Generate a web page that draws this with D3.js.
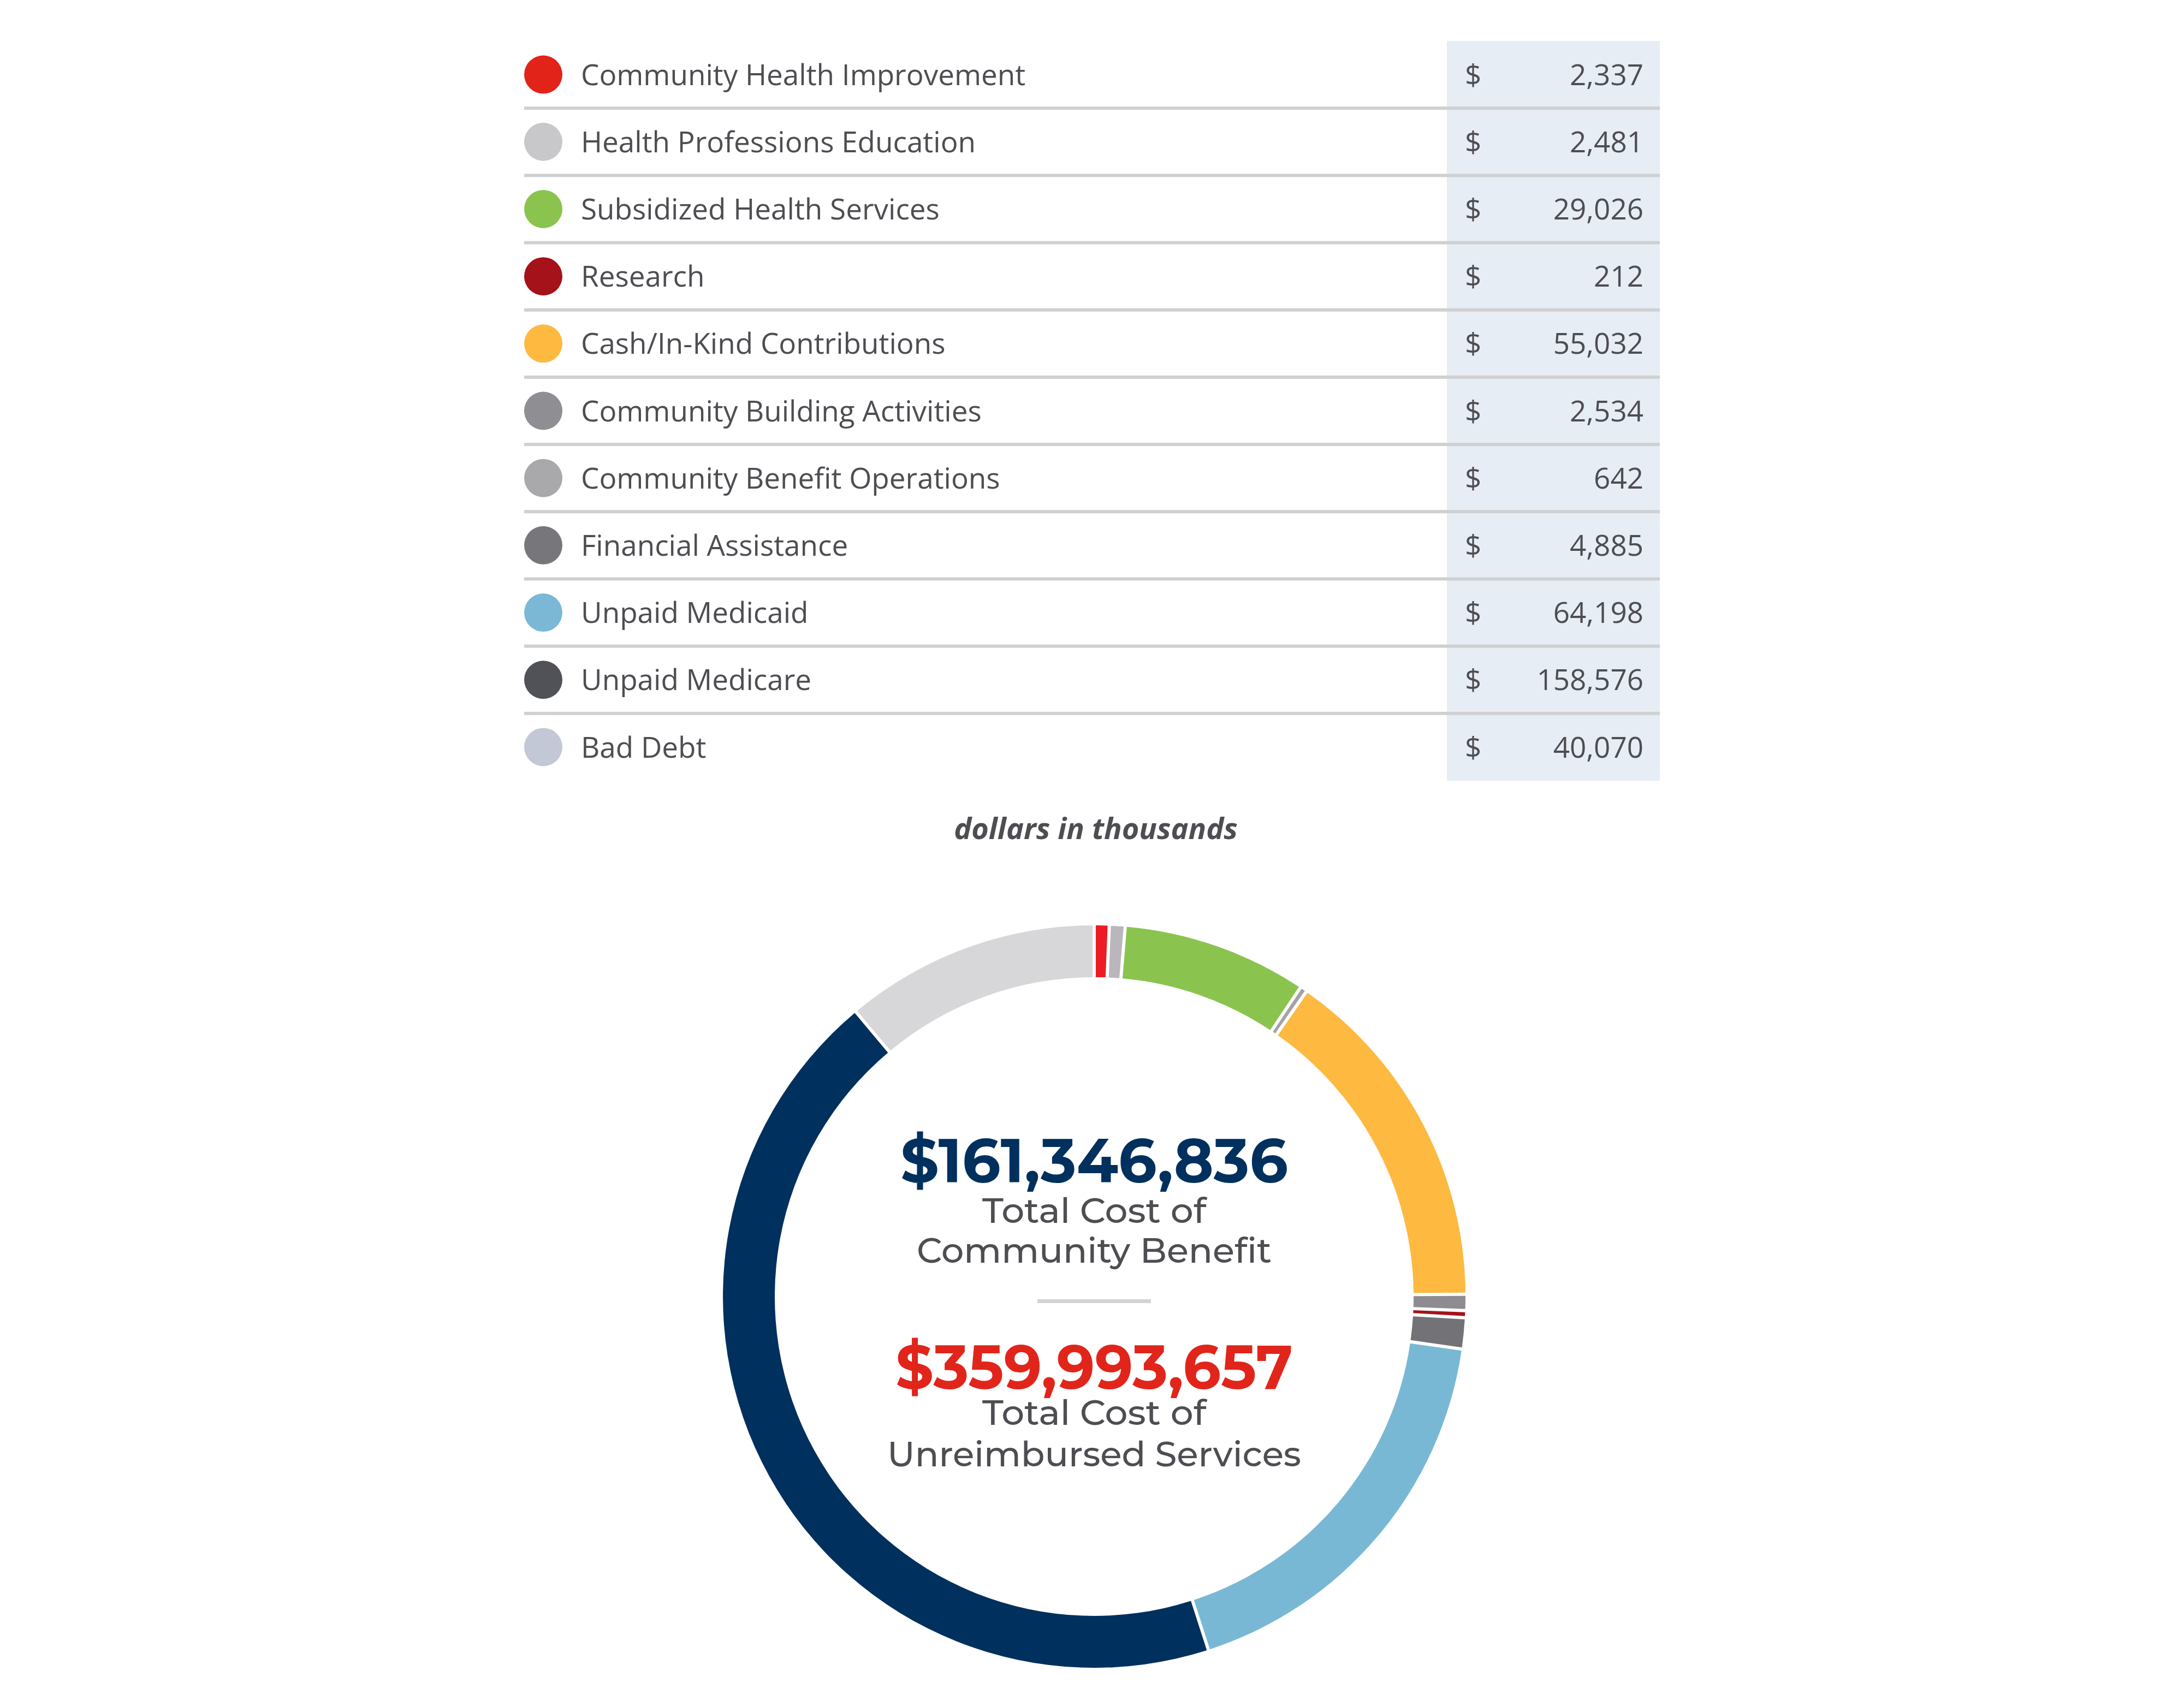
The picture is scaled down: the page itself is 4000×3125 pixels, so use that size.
<!DOCTYPE html>
<html lang="en">
<head>
<meta charset="UTF-8" />
<title>Community Benefit</title>
<script src="https://cdn.jsdelivr.net/npm/d3@7"></script>
<style>
html, body { margin: 0; padding: 0; background: #fff; }
svg { display: block; }
.lbl { font-family: "Open Sans", sans-serif; fill: #4d4d52; }
.big { font-family: "Montserrat", "Roboto", sans-serif; font-weight: 700; }
.sub { font-family: "Montserrat", "Roboto", sans-serif; font-weight: 500; fill: #4d4d52; }
</style>
</head>
<body>
<svg id="chart" width="4000" height="3125"></svg>
<script>
// legend order (table)
const categories = [
  'Community Health Improvement', 'Health Professions Education', 'Subsidized Health Services',
  'Research', 'Cash/In-Kind Contributions', 'Community Building Activities',
  'Community Benefit Operations', 'Financial Assistance', 'Unpaid Medicaid',
  'Unpaid Medicare', 'Bad Debt'
];
const values = [2337, 2481, 29026, 212, 55032, 2534, 642, 4885, 64198, 158576, 40070]; // $ thousands
const dotColors = ['#e2231a', '#c8c8ca', '#8bc34f', '#a5121a', '#fdb940', '#8e8e93',
  '#a9a9ab', '#77777b', '#7ab8d6', '#515257', '#c3c8d6'];

// order round the ring, clockwise from 12 o'clock
const ringOrder = [
  'Community Health Improvement', 'Health Professions Education', 'Subsidized Health Services',
  'Community Benefit Operations', 'Cash/In-Kind Contributions', 'Community Building Activities',
  'Research', 'Financial Assistance', 'Unpaid Medicaid', 'Unpaid Medicare', 'Bad Debt'
];
const ringColors = {
  'Community Health Improvement': '#ec1c24', 'Health Professions Education': '#b9b7bb',
  'Subsidized Health Services': '#8bc34f', 'Community Benefit Operations': '#a3a2a6',
  'Cash/In-Kind Contributions': '#fdb940', 'Community Building Activities': '#8e8c91',
  'Research': '#a5121a', 'Financial Assistance': '#737277', 'Unpaid Medicaid': '#79b8d5',
  'Unpaid Medicare': '#00305e', 'Bad Debt': '#d7d6d8'
};

const totals = ['$161,346,836', '$359,993,657'];
const totalLabels = [['Total Cost of', 'Community Benefit'], ['Total Cost of', 'Unreimbursed Services']];
const note = 'dollars in thousands';

const svg = d3.select('#chart');
const fmt = d3.format(',');

// ---- table ----
const tLeft = 960, tRight = 3040, colX = 2650;
const y = d3.scaleBand().domain(categories).range([75, 1430]);

svg.append('rect').attr('x', colX).attr('y', y.range()[0])
  .attr('width', tRight - colX).attr('height', y.range()[1] - y.range()[0])
  .attr('fill', '#e6edf4');

const row = svg.selectAll('g.row').data(categories).join('g')
  .attr('class', 'row')
  .attr('transform', d => `translate(0,${y(d) + y.bandwidth() / 2})`);

row.filter((d, i) => i < categories.length - 1).append('rect')
  .attr('x', tLeft).attr('y', y.bandwidth() / 2 - 3)
  .attr('width', tRight - tLeft).attr('height', 6).attr('fill', '#cfd0d2');

row.append('circle').attr('cx', 995).attr('cy', 0).attr('r', 35)
  .attr('fill', (d, i) => dotColors[i]);

row.append('text').attr('class', 'lbl').attr('x', 1064).attr('dy', '0.36em')
  .attr('font-size', 53).text(d => d);

row.append('text').attr('class', 'lbl').attr('x', 2683).attr('dy', '0.36em')
  .attr('font-size', 53).text('$');

row.append('text').attr('class', 'lbl').attr('x', 3010).attr('dy', '0.36em')
  .attr('text-anchor', 'end').attr('font-size', 53)
  .text((d, i) => fmt(values[i]));

svg.append('text').attr('class', 'lbl').attr('x', 2007).attr('y', 1537)
  .attr('text-anchor', 'middle').attr('font-size', 54)
  .attr('font-style', 'italic').attr('font-weight', 700)
  .text(note);

// ---- ring ----
const cx = 2004, cy = 2375, rOut = 680, rIn = 585;
const valueOf = Object.fromEntries(categories.map((c, i) => [c, values[i]]));
const minShown = 1100; // keep hair-thin slices visible, as the print does

const pie = d3.pie().sort(null).value(d => Math.max(valueOf[d], minShown));
const arc = d3.arc().innerRadius(rIn).outerRadius(rOut).padAngle(0.0066);

const ring = svg.append('g').attr('transform', `translate(${cx},${cy})`);
ring.selectAll('path').data(pie(ringOrder)).join('path')
  .attr('d', arc).attr('fill', d => ringColors[d.data]);

// ---- centre text ----
const centre = svg.append('g').attr('transform', `translate(${cx},0)`);
const bigY = [2166, 2544], bigW = [710, 728], bigCol = ['#00305e', '#e1251b'];
const subY = [[2240, 2313], [2610, 2686]], subW = [[410, 650], [410, 758]];

totals.forEach((t, k) => {
  centre.append('text').attr('class', 'big').attr('y', bigY[k])
    .attr('text-anchor', 'middle').attr('font-size', 114).attr('fill', bigCol[k])
    .attr('textLength', bigW[k]).attr('lengthAdjust', 'spacingAndGlyphs').text(t);
  totalLabels[k].forEach((s, j) => {
    centre.append('text').attr('class', 'sub').attr('y', subY[k][j])
      .attr('text-anchor', 'middle').attr('font-size', 64)
      .attr('textLength', subW[k][j]).attr('lengthAdjust', 'spacingAndGlyphs').text(s);
  });
});

centre.append('rect').attr('x', -104).attr('y', 2380).attr('width', 208).attr('height', 7)
  .attr('fill', '#d3d3d3');
</script>
</body>
</html>
